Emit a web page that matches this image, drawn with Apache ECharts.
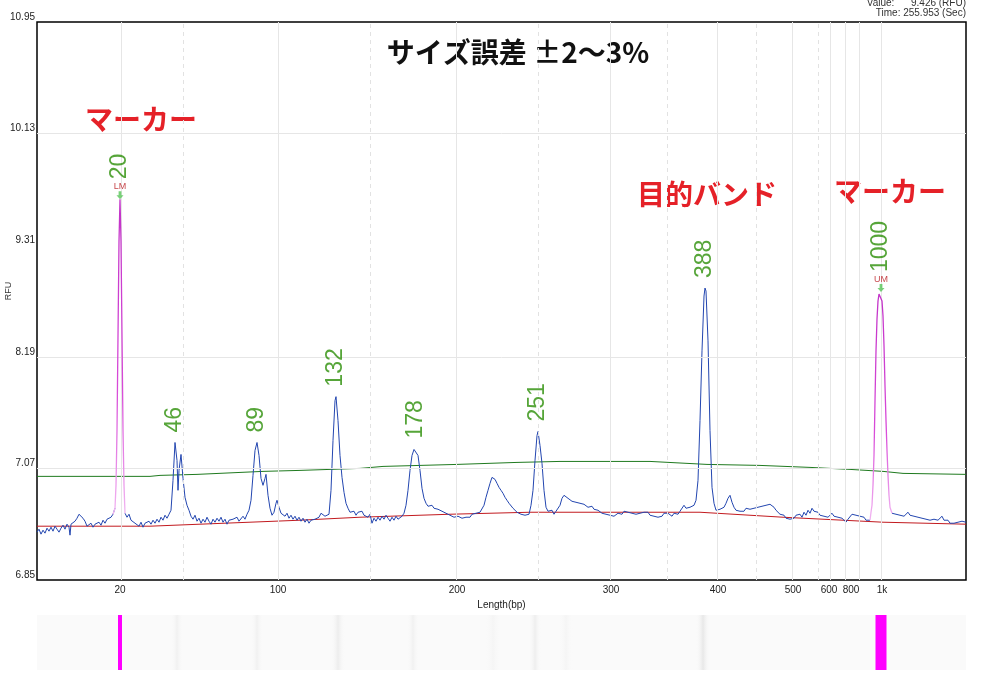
<!DOCTYPE html>
<html><head><meta charset="utf-8">
<script src="https://cdn.jsdelivr.net/npm/echarts@6/dist/echarts.min.js"></script>
<style>html,body{margin:0;padding:0;background:#fff}#c{width:999px;height:679px}</style>
</head><body><div id="c"></div>
<script>
// ---- axis ticks ----
const xTickLabels = ['20','100','200','300','400','500','600','800','1k'];
const xTickPos = [83,241,420,574,681,756,792,814,845];
const gridSolidX = [84,241,419,573,680,755,793,808,822,844];
const gridDashedX = [146,333,501,630,719,781];
const yTickLabels = ['6.85','7.07','8.19','9.31','10.13','10.95'];
const yTickPos = [0,112,224,336,448,560];
const gridY = [112,224,448];

// ---- signal (blue trace), split where the markers are ----
const blueSeg1 = [[0,48],[2,51],[4,46],[6,50],[8,47],[10,52],[12,49],[14,53],[16,49],[18,54],[20,51],[22,48],[24,52],[26,55],[28,51],[30,56],[32,53],[33,45],[34,56],[36,54],[38,59],[40,62],[42,66],[44,68],[46,62],[48,59],[50,54],[52,52],[54,57],[56,53],[58,56],[60,54],[62,58],[64,55],[66,60],[68,57],[70,61],[72,59],[74,63],[76,66],[78,72]];
const blueSeg2 = [[88,67],[90,63],[92,66],[94,60],[96,62],[98,57],[100,59],[102,54],[104,58],[106,53],[108,57],[110,55],[112,59],[114,56],[116,60],[118,57],[120,61],[122,58],[124,63],[126,60],[128,65],[130,62],[132,66],[134,70],[136,100],[138,138],[140,120],[141,90],[142,110],[144,126],[146,102],[148,83],[150,75],[152,70],[154,64],[156,61],[158,65],[160,59],[162,62],[164,57],[166,61],[168,58],[170,63],[172,59],[174,56],[176,61],[178,58],[180,62],[182,59],[184,63],[186,58],[188,61],[190,56],[192,60],[194,58],[196,61],[198,59],[200,63],[202,59],[204,61],[206,64],[208,61],[210,66],[212,70],[214,80],[216,105],[218,130],[220,138],[222,125],[224,102],[226,95],[228,102],[229,106],[231,85],[233,72],[235,65],[237,68],[239,77],[240,80],[242,73],[244,67],[246,69],[248,64],[250,67],[252,62],[254,65],[256,61],[258,64],[260,60],[262,63],[264,59],[266,62],[268,58],[270,61],[272,57],[274,60],[276,58],[278,61],[280,59],[282,63],[284,67],[286,68],[288,64],[290,63],[292,66],[294,90],[296,140],[298,180],[299,184],[301,160],[303,125],[305,103],[307,88],[309,77],[311,72],[313,68],[315,66],[317,69],[319,65],[321,68],[323,66],[325,69],[327,65],[329,67],[331,63],[333,66],[335,57],[337,62],[339,59],[341,63],[343,60],[345,64],[347,61],[349,65],[351,62],[353,59],[355,63],[357,60],[359,64],[361,61],[363,63],[365,64],[367,67],[369,75],[371,90],[373,110],[375,125],[377,131],[379,132],[381,125],[383,110],[385,92],[387,82],[389,77],[391,74],[393,73],[395,75],[397,72],[399,73],[401,71],[403,72],[405,69],[407,70],[409,67],[411,68],[413,65],[415,66],[417,63],[419,62],[421,64],[423,65],[425,62],[427,64],[429,63],[431,65],[433,63],[435,66],[437,64],[439,67],[441,65],[443,68],[445,68],[447,75],[449,83],[451,90],[453,97],[455,103],[456,105],[458,101],[460,97],[462,93],[464,90],[466,87],[468,83],[470,80],[472,77],[474,75],[476,72],[478,70],[480,68],[482,69],[484,66],[486,67],[488,65],[490,63],[492,66],[494,75],[496,90],[498,120],[500,145],[501,149],[503,135],[505,117],[507,90],[509,73],[511,69],[513,67],[515,70],[517,66],[519,69],[521,68],[523,75],[525,82],[527,85],[529,83],[531,82],[533,80],[535,79],[537,81],[539,78],[541,77],[543,77],[545,75],[547,76],[549,74],[551,73],[553,72],[555,74],[557,71],[559,72],[561,70],[563,68],[565,67],[567,69],[569,66],[571,67],[573,65],[575,66],[577,64],[579,65],[581,67],[583,69],[585,66],[587,69],[589,70],[591,68],[593,70],[595,67],[597,69],[599,66],[601,68],[603,67],[605,69],[607,68],[609,66],[611,68],[613,65],[615,67],[617,64],[619,66],[621,63],[623,65],[625,64],[627,67],[629,65],[631,67],[633,66],[635,64],[637,67],[639,68],[641,66],[643,69],[645,71],[647,75],[649,72],[651,70],[653,73],[655,71],[657,75],[659,80],[661,100],[663,160],[665,230],[667,285],[668,293],[669,290],[671,240],[673,150],[675,93],[677,77],[679,70],[681,68],[683,71],[685,69],[687,73],[689,77],[691,82],[693,85],[695,78],[697,73],[699,70],[701,72],[703,69],[705,71],[707,69],[709,72],[711,70],[713,71],[715,69],[717,72],[719,70],[721,73],[723,71],[725,74],[727,72],[729,75],[731,73],[733,76],[735,77],[737,73],[739,70],[741,68],[743,66],[745,64],[747,65],[749,62],[751,64],[753,61],[755,60],[757,62],[759,65],[761,64],[763,66],[765,63],[767,68],[769,65],[771,70],[773,67],[775,72],[777,69],[779,67],[781,68],[783,65],[785,67],[787,64],[789,66],[791,63],[793,65],[795,67],[797,64],[799,66],[801,63],[803,65],[805,62],[807,60],[809,58],[811,61],[813,63],[815,66],[817,67],[819,65],[821,63],[823,64],[825,62],[827,63],[829,60],[831,61],[833,60]];
const blueSeg3 = [[855,67],[857,69],[859,66],[861,68],[863,65],[865,67],[867,64],[869,66],[871,68],[873,65],[875,67],[877,64],[879,66],[881,63],[883,65],[885,62],[887,64],[889,61],[891,59],[893,60],[895,58],[897,61],[899,63],[901,60],[903,62],[905,64],[907,60],[909,58],[911,60],[913,57],[915,59],[917,57],[919,55],[921,58],[923,56],[925,59],[927,58],[929,58]];

// ---- size markers (pink) ----
const lowerMarker = [[76,66],[78,72],[79,95],[80,150],[81,245],[82,340],[83,382],[84,340],[85,245],[86,150],[87,95],[88,67]];
const upperMarker = [[833,60],[834,68],[835,75],[836,95],[837,125],[838,180],[839,230],[840,262],[841,280],[842,287],[843,289],[844,288],[845,280],[846,265],[847,235],[848,195],[849,160],[850,130],[851,105],[852,85],[853,73],[855,67]];

// ---- threshold (green) and baseline (red) ----
const thresholdLine = [[0,104],[113,104],[123,105],[160,106],[226,109],[263,110],[323,112],[346,114],[383,115],[420,116],[480,118],[523,119],[613,119],[670,116],[723,115],[773,113],[813,111],[846,109],[866,107],[929,106]];
const baselineLine = [[0,54],[113,54],[163,56],[263,60],[323,63],[413,66],[493,68],[663,68],[746,63],[846,58],[929,56]];

// ---- peak calls ----
const peakX = [83,138,220,299,379,501,668,844];
const peakY = [382,138,138,184,132,149,293,289];
const peakText = ['20','46','89','132','178','251','388','1000'];
const markerTags = {'20':'LM','1000':'UM'};

// ---- gel image ----
const gelBandPos = [140,220,301,376,456,498,529,666];
const gelBandDrop = [9,9,13,9,5,12,5,18];
const gelBandWidth = [12,12,14,12,16,12,14,14];
const gelMarkerPos = [83,844];
const gelMarkerWidth = [4,11];

const chart = echarts.init(document.getElementById('c'), null, {renderer:'canvas'});
const axisFont = 'Liberation Sans';
const peakGreen = '#2c8f08';
const redText = '#e52128';

const markSolid = gridSolidX.map(v => ({xAxis: v, lineStyle:{type:'solid'}}));
const markDashed = gridDashedX.map(v => ({xAxis: v, lineStyle:{type:[4,4], color:'#e2e2e2'}}));
const markY = gridY.map(v => ({yAxis: v}));

const blueStyle = {type:'line', xAxisIndex:0, yAxisIndex:0, showSymbol:false, symbol:'none',
  lineStyle:{color:'#2346b0', width:1}, z:4, animation:false};
const pinkGrad = () => new echarts.graphic.LinearGradient(0,0,0,1,[
  {offset:0, color:'#c232c8'},{offset:0.6, color:'#d84ad8'},{offset:1, color:'#f2b8f2'}]);

const option = {
  animation:false,
  backgroundColor:'#fff',
  grid:[
    {left:37, right:33, top:22, bottom:99, show:true, borderColor:'#000', borderWidth:1.5, backgroundColor:'#fff', z:0},
    {left:37, right:33, top:615, height:55, show:true, borderWidth:0, backgroundColor:'#fafafa'}
  ],
  xAxis:[
    {type:'value', gridIndex:0, min:0, max:929,
      axisLine:{show:false}, axisTick:{show:false}, splitLine:{show:false},
      axisLabel:{customValues:xTickPos, margin:5, fontSize:10, fontFamily:axisFont, color:'#222',
        formatter:v => { const i = xTickPos.indexOf(v); return i >= 0 ? xTickLabels[i] : ''; }},
      name:'Length(bp)', nameLocation:'middle', nameGap:20,
      nameTextStyle:{fontSize:10, fontFamily:axisFont, color:'#222'}},
    {type:'value', gridIndex:1, min:0, max:929, show:false}
  ],
  yAxis:[
    {type:'value', gridIndex:0, min:0, max:560,
      axisLine:{show:false}, axisTick:{show:false}, splitLine:{show:false},
      axisLabel:{customValues:yTickPos, margin:2, fontSize:10, fontFamily:axisFont, color:'#222', verticalAlign:'bottom',
        formatter:v => { const i = yTickPos.indexOf(v); return i >= 0 ? yTickLabels[i] : ''; }}},
    {type:'value', gridIndex:1, min:0, max:1, show:false}
  ],
  graphic:[
    {type:'text', x:966, y:3, style:{text:'Value:      9.426 (RFU)', textAlign:'right', textVerticalAlign:'middle', font:'10px Liberation Sans', fill:'#333'}},
    {type:'text', x:966, y:13, style:{text:'Time: 255.953 (Sec)', textAlign:'right', textVerticalAlign:'middle', font:'10px Liberation Sans', fill:'#333'}},
    {type:'text', x:9, y:291, rotation:Math.PI/2, style:{text:'RFU', textAlign:'center', textVerticalAlign:'middle', font:'9px Liberation Sans', fill:'#333'}},
    {type:'text', x:518, y:52, style:{text:'サイズ誤差 ±2～3%', textAlign:'center', textVerticalAlign:'middle', font:'bold 28px "Noto Sans CJK JP"', fill:'#111'}},
    {type:'text', x:141, y:119, style:{text:'マーカー', textAlign:'center', textVerticalAlign:'middle', font:'bold 28px "Noto Sans CJK JP"', fill:redText}},
    {type:'text', x:707, y:194, style:{text:'目的バンド', textAlign:'center', textVerticalAlign:'middle', font:'bold 28px "Noto Sans CJK JP"', fill:redText}},
    {type:'text', x:890, y:191, style:{text:'マーカー', textAlign:'center', textVerticalAlign:'middle', font:'bold 28px "Noto Sans CJK JP"', fill:redText}}
  ],
  series:[
    {type:'line', xAxisIndex:0, yAxisIndex:0, data:[], z:1, silent:true,
      markLine:{silent:true, symbol:['none','none'], label:{show:false}, animation:false,
        lineStyle:{color:'#e6e6e6', width:1, type:'solid'},
        data:[...markSolid, ...markDashed, ...markY]}},
    {type:'line', xAxisIndex:0, yAxisIndex:0, data:thresholdLine, showSymbol:false, symbol:'none',
      lineStyle:{color:'#1f7a1f', width:1}, z:3},
    {type:'line', xAxisIndex:0, yAxisIndex:0, data:baselineLine, showSymbol:false, symbol:'none',
      lineStyle:{color:'#c21a1f', width:1}, z:3},
    Object.assign({data:blueSeg1}, blueStyle),
    Object.assign({data:blueSeg2}, blueStyle),
    Object.assign({data:blueSeg3}, blueStyle),
    {type:'line', xAxisIndex:0, yAxisIndex:0, data:lowerMarker, showSymbol:false, symbol:'none',
      lineStyle:{color:pinkGrad(), width:1.3}, z:5},
    {type:'line', xAxisIndex:0, yAxisIndex:0, data:upperMarker, showSymbol:false, symbol:'none',
      lineStyle:{color:pinkGrad(), width:1.3}, z:5},
    // peak size labels
    {type:'scatter', xAxisIndex:0, yAxisIndex:0, symbolSize:0, z:6,
      data:peakX.map((x,i) => ({value:[x, peakY[i]], name:peakText[i],
        label:{distance: markerTags[peakText[i]] ? 20 : 10}})),
      label:{show:true, formatter:p => p.name, position:'top', rotate:90, align:'left', verticalAlign:'middle',
        distance:10, fontSize:23, fontFamily:'Liberation Sans', color:peakGreen}
    },
    // marker arrows
    {type:'scatter', xAxisIndex:0, yAxisIndex:0, z:6,
      symbol:'path://M3,0 L7,0 L7,5 L10,5 L5,10 L0,5 L3,5 Z', symbolSize:[7,8], symbolOffset:[0,'-50%'],
      itemStyle:{color:'#56c456'},
      data:peakX.map((x,i) => markerTags[peakText[i]] ? [x, peakY[i]] : null).filter(d => d)},
    // LM / UM tags
    {type:'scatter', xAxisIndex:0, yAxisIndex:0, symbolSize:0, z:7,
      data:peakX.map((x,i) => markerTags[peakText[i]] ? {value:[x, peakY[i]], name:markerTags[peakText[i]]} : null).filter(d => d),
      label:{show:true, formatter:p => p.name, position:'top', distance:8, fontSize:9, fontFamily:'Liberation Sans', color:'#b8141a'}},
    // gel bands
    {type:'custom', xAxisIndex:1, yAxisIndex:1, z:2,
      data:gelBandPos.map((p,i) => [p, gelBandDrop[i], gelBandWidth[i]]),
      renderItem:(params, api) => {
        const c = api.coord([api.value(0), 1]);
        const w = api.size([api.value(2), 0])[0];
        const h = api.size([0, 1])[1];
        const g = 250 - api.value(1);
        const col = 'rgb(' + g + ',' + g + ',' + g + ')';
        return {type:'rect', shape:{x:c[0]-w/2, y:c[1], width:w, height:h},
          style:{fill:new echarts.graphic.LinearGradient(0,0,1,0,[
            {offset:0, color:'rgba(250,250,250,0)'},{offset:0.5, color:col},{offset:1, color:'rgba(250,250,250,0)'}])}};
      }},
    // gel marker bars
    {type:'custom', xAxisIndex:1, yAxisIndex:1, z:3,
      data:gelMarkerPos.map((p,i) => [p, gelMarkerWidth[i]]),
      renderItem:(params, api) => {
        const c = api.coord([api.value(0), 1]);
        const w = api.size([api.value(1), 0])[0];
        const h = api.size([0, 1])[1];
        return {type:'rect', shape:{x:c[0]-w/2, y:c[1], width:w, height:h}, style:{fill:'#ff00ff'}};
      }}
  ]
};
chart.setOption(option);
</script>
</body></html>
